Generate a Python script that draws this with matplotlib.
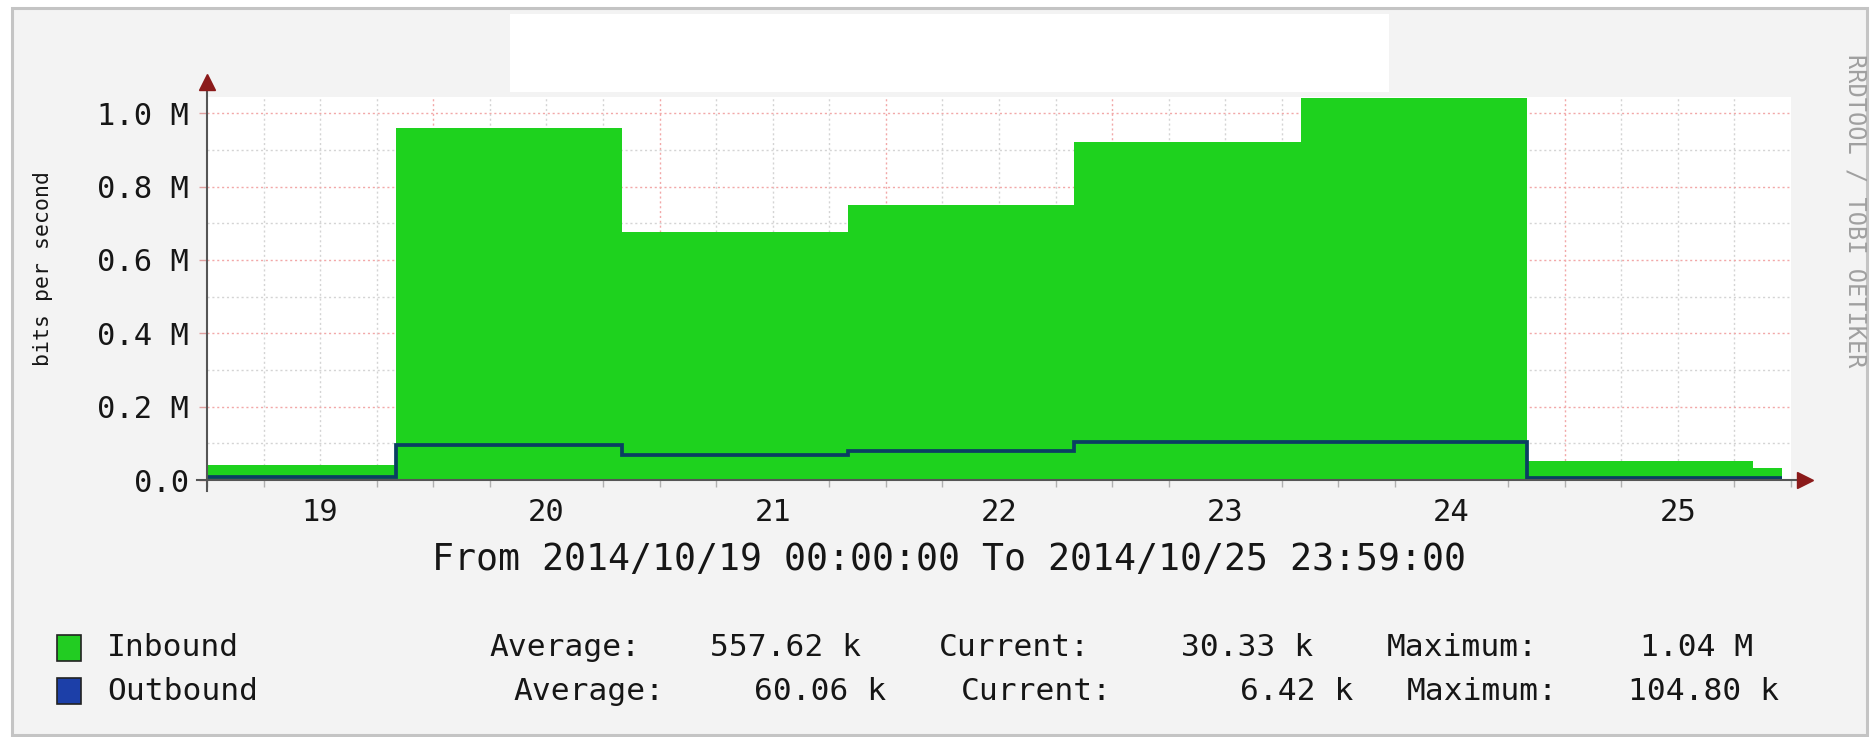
import matplotlib
matplotlib.use("Agg")
import matplotlib.pyplot as plt
from matplotlib.patches import Rectangle
import numpy as np

W, H = 1870, 737
MONO = "DejaVu Sans Mono"

# ---- data (hours since 2014/10/19 00:00, bits per second) ----
step_edges_h = [0, 20, 44, 68, 92, 116, 140, 164, 167]
inbound_bps = [41e3, 959e3, 676e3, 749e3, 921e3, 1040e3, 52e3, 33e3]
outbound_bps = [7e3, 95e3, 69e3, 78e3, 103e3, 104.8e3, 6.4e3, 6.4e3]
day_labels = ["19", "20", "21", "22", "23", "24", "25"]
ytick_vals = [0.0, 0.2e6, 0.4e6, 0.6e6, 0.8e6, 1.0e6]
ytick_labels = ["0.0", "0.2 M", "0.4 M", "0.6 M", "0.8 M", "1.0 M"]
legend_rows = [
    ("Inbound", ["Average:", "557.62 k", "Current:", "30.33 k", "Maximum:", "1.04 M"]),
    ("Outbound", ["Average:", "60.06 k", "Current:", "6.42 k", "Maximum:", "104.80 k"]),
]
legend_colors = ["#22cc22", "#1c3fa8"]
legend_x = [[489, 710, 939, 1181, 1387, 1640], [513, 754, 961, 1240, 1407, 1628]]
legend_y = [648, 691]

GREEN = "#1ed21e"
LINE = "#0a3f62"
TXT = "#161616"


def fx(x):
    return x / W


def fy(y):
    return 1 - y / H


fig = plt.figure(figsize=(W / 100, H / 100), dpi=100, facecolor="white")

# background frame
fig.patches.append(Rectangle((fx(12), fy(735)), fx(1867) - fx(12), fy(8) - fy(735),
                             transform=fig.transFigure, facecolor="#f3f3f3",
                             edgecolor="#c4c4c4", lw=2.2, zorder=-2))
# white title box
fig.patches.append(Rectangle((fx(510), fy(92)), fx(1389) - fx(510), fy(14) - fy(92),
                             transform=fig.transFigure, facecolor="white",
                             edgecolor="none", zorder=-1))

ax_l, ax_r, ax_t, ax_b = 207, 1791, 97, 480
ax = fig.add_axes([fx(ax_l), fy(ax_b), fx(ax_r) - fx(ax_l), fy(ax_t) - fy(ax_b)])
ax.set_zorder(5)
ax.set_facecolor("white")
xmax = 168
ymax = 1.044e6
ax.set_xlim(0, xmax)
ax.set_ylim(0, ymax)
for s in ax.spines.values():
    s.set_visible(False)

# grid
for h in np.arange(6, xmax, 6):
    if h % 24 == 0:
        ax.axvline(h, color="#f2a8a8", lw=1.0, ls=(0, (1.5, 2)), zorder=1)
    else:
        ax.axvline(h, color="#d4d4d4", lw=1.0, ls=(0, (1.5, 2)), zorder=1)
for v in np.arange(0.1e6, ymax, 0.1e6):
    if round(v / 1e5) % 2 == 0:
        ax.axhline(v, color="#f2a8a8", lw=1.0, ls=(0, (1.5, 2)), zorder=1)
    else:
        ax.axhline(v, color="#d4d4d4", lw=1.0, ls=(0, (1.5, 2)), zorder=1)

# data
ax.stairs(inbound_bps, step_edges_h, fill=True, color=GREEN, zorder=2)
ax.stairs(outbound_bps, step_edges_h, baseline=None, color=LINE, lw=2.7, zorder=3)

# axis lines with arrows
ax.plot([-0.006, 1.006], [0, 0], transform=ax.transAxes, color="#555555", lw=1.5,
        clip_on=False, zorder=4)
ax.plot([0, 0], [-0.03, 1.03], transform=ax.transAxes, color="#555555", lw=1.5,
        clip_on=False, zorder=4)
ax.plot([1.009], [0], transform=ax.transAxes, marker=">", ms=11, color="#8b1a1a",
        clip_on=False, zorder=5)
ax.plot([0], [1.04], transform=ax.transAxes, marker="^", ms=11, color="#8b1a1a",
        clip_on=False, zorder=5)

# ticks
ax.set_xticks([12 + 24 * i for i in range(len(day_labels))])
ax.set_xticklabels(day_labels, fontfamily=MONO, fontsize=22, color=TXT)
ax.set_xticks(np.arange(0, xmax + 1, 6), minor=True)
ax.tick_params(axis="x", which="major", length=0, pad=13)
ax.tick_params(axis="x", which="minor", length=5, color="#b0b0b0", width=1)
ax.set_yticks(ytick_vals)
ax.set_yticklabels(ytick_labels, fontfamily=MONO, fontsize=22, color=TXT)
ax.tick_params(axis="y", which="major", length=6, color="#e0a0a0", width=1, pad=7)

# texts
fig.text(fx(43), fy(268), "bits per second", rotation=90, ha="center", va="center",
         fontfamily=MONO, fontsize=15.5, color=TXT)
fig.text(fx(1855), fy(211), "RRDTOOL / TOBI OETIKER", rotation=270, ha="center",
         va="center", fontfamily=MONO, fontsize=17, color="#a0a0a0")
fig.text(fx(949), fy(559), "From 2014/10/19 00:00:00 To 2014/10/25 23:59:00",
         ha="center", va="center", fontfamily=MONO, fontsize=26.3, color=TXT)

# legend
for r, (name, pieces) in enumerate(legend_rows):
    y = legend_y[r]
    fig.patches.append(Rectangle((fx(57), fy(y + 13)), fx(81) - fx(57), fy(y - 13) - fy(y + 13),
                                 transform=fig.transFigure, facecolor=legend_colors[r],
                                 edgecolor="#222222", lw=1.2, zorder=2))
    fig.text(fx(107), fy(y), name, ha="left", va="center", fontfamily=MONO,
             fontsize=22.5, color=TXT)
    for xpos, txt in zip(legend_x[r], pieces):
        fig.text(fx(xpos), fy(y), txt, ha="left", va="center", fontfamily=MONO,
                 fontsize=22.5, color=TXT)

fig.savefig("out.png", dpi=100, facecolor=fig.get_facecolor())
